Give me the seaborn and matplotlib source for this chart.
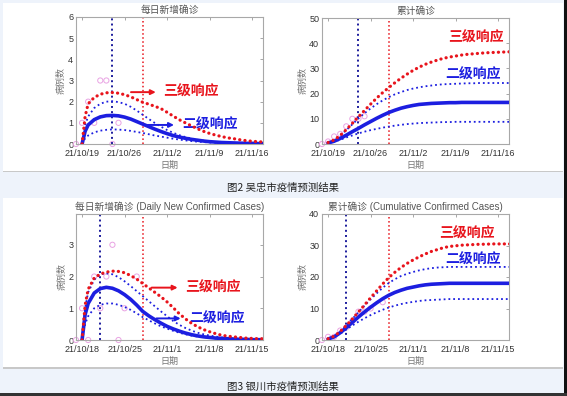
import numpy as np
import matplotlib.pyplot as plt
import matplotlib.patches as mpatches
import seaborn as sns

sns.set_theme(style="white")
plt.rcParams['font.family'] = ['Liberation Sans Narrow', 'Liberation Sans', 'Noto Sans CJK SC']
plt.rcParams['axes.unicode_minus'] = False

RED = '#e8141c'
BLUE = '#1c1ee0'
NAVY = '#1c1c9c'
PINK = '#e9a3e3'

# x positions: days after first tick date
days_d = np.r_[0, 0.5, np.arange(1, 31)]
days_c = np.arange(0, 31)

# ---- 吴忠 (fig 2) ----
wz_ticks = ['21/10/19', '21/10/26', '21/11/2', '21/11/9', '21/11/16']
wz_vlines = [5, 10]
wz_obs_days = [-1, 0, 1, 2, 3, 4, 5, 6]
wz_obs_daily = [0, 1, 2, 1, 3, 3, 0, 1]
wz_obs_cum = [0, 1, 3, 4, 7, 10, 10, 11]

wz_d_l3 = [0, 1.3, 1.9, 2.2, 2.35, 2.42, 2.43, 2.4, 2.33, 2.23, 2.1, 1.97,
           1.88, 1.78, 1.67, 1.5, 1.32, 1.15, 1.0, 0.86, 0.72, 0.6,
           0.5, 0.42, 0.35, 0.29, 0.25, 0.2, 0.16, 0.13, 0.11, 0.09]
wz_d_mid = [0, 0.6, 0.9, 1.15, 1.28, 1.34, 1.35, 1.33, 1.27, 1.18, 1.06, 0.94,
            0.82, 0.7, 0.59, 0.49, 0.4, 0.33, 0.27, 0.22, 0.18, 0.14,
            0.11, 0.09, 0.07, 0.06, 0.05, 0.04, 0.03, 0.03, 0.02, 0.02]
wz_d_up = [0, 0.9, 1.3, 1.7, 1.9, 2.0, 2.02, 1.98, 1.9, 1.76, 1.58, 1.38,
           1.18, 0.99, 0.82, 0.66, 0.53, 0.42, 0.33, 0.26, 0.2, 0.16,
           0.12, 0.09, 0.07, 0.06, 0.05, 0.04, 0.03, 0.02, 0.02, 0.02]
wz_d_lo = [0, 0.27, 0.4, 0.55, 0.63, 0.67, 0.69, 0.68, 0.66, 0.62, 0.57, 0.52,
           0.46, 0.4, 0.35, 0.3, 0.25, 0.21, 0.17, 0.14, 0.11, 0.09,
           0.07, 0.06, 0.05, 0.04, 0.03, 0.02, 0.02, 0.01, 0.01, 0.01]

wz_c_l3 = [0.6, 1.6, 3.4, 5.7, 8.2, 10.8, 13.3, 15.8, 18.2, 20.4,
           22.4, 24.3, 26.1, 27.7, 29.2, 30.5, 31.6, 32.5, 33.3, 34.0,
           34.5, 34.9, 35.3, 35.6, 35.8, 36.0, 36.2, 36.3, 36.4, 36.5, 36.6]
wz_c_up = [0.6, 1.6, 3.3, 5.5, 7.8, 10.1, 12.2, 14.1, 15.8, 17.3,
           18.6, 19.7, 20.6, 21.4, 22.0, 22.5, 22.9, 23.2, 23.5, 23.7,
           23.8, 23.9, 24.0, 24.1, 24.1, 24.2, 24.2, 24.2, 24.2, 24.2, 24.2]
wz_c_mid = [0.4, 1.1, 2.2, 3.5, 4.9, 6.2, 7.6, 8.9, 10.2, 11.4,
            12.5, 13.4, 14.2, 14.8, 15.3, 15.7, 15.9, 16.1, 16.2, 16.3,
            16.4, 16.4, 16.5, 16.5, 16.5, 16.5, 16.5, 16.5, 16.5, 16.5, 16.5]
wz_c_lo = [0.3, 0.9, 1.7, 2.6, 3.4, 4.2, 4.9, 5.5, 6.0, 6.5,
           6.9, 7.3, 7.6, 7.9, 8.1, 8.3, 8.4, 8.5, 8.6, 8.7,
           8.7, 8.8, 8.8, 8.8, 8.8, 8.8, 8.8, 8.8, 8.8, 8.8, 8.8]

# ---- 银川 (fig 3) ----
yc_ticks = ['21/10/18', '21/10/25', '21/11/1', '21/11/8', '21/11/15']
yc_vlines = [3, 10]
yc_obs_days = [-1, 0, 1, 2, 3, 4, 5, 6, 7, 9]
yc_obs_daily = [0, 1, 0, 2, 1, 2, 3, 0, 1, 2]
yc_obs_cum = [0, 1, 1, 3, 4, 6, 9, 9, 10, 12]

yc_d_l3 = [0, 1.1, 1.6, 1.95, 2.08, 2.14, 2.17, 2.16, 2.12, 2.03, 1.92, 1.78,
           1.64, 1.5, 1.36, 1.2, 1.02, 0.83, 0.67, 0.53, 0.42, 0.33,
           0.26, 0.2, 0.15, 0.12, 0.1, 0.08, 0.06, 0.05, 0.04, 0.04]
yc_d_up = [0, 1.0, 1.5, 1.9, 2.07, 2.1, 2.07, 1.98, 1.85, 1.7, 1.54, 1.38,
           1.22, 1.06, 0.9, 0.75, 0.6, 0.48, 0.38, 0.3, 0.23, 0.18,
           0.14, 0.11, 0.08, 0.06, 0.05, 0.04, 0.03, 0.02, 0.02, 0.02]
yc_d_mid = [0, 0.8, 1.15, 1.48, 1.62, 1.66, 1.63, 1.55, 1.43, 1.28, 1.1, 0.9,
            0.76, 0.64, 0.53, 0.43, 0.35, 0.28, 0.22, 0.17, 0.13, 0.1,
            0.08, 0.06, 0.05, 0.04, 0.03, 0.02, 0.02, 0.01, 0.01, 0.01]
yc_d_lo = [0, 0.5, 0.75, 1.0, 1.11, 1.15, 1.15, 1.11, 1.04, 0.95, 0.84, 0.72,
           0.62, 0.52, 0.43, 0.36, 0.29, 0.23, 0.18, 0.14, 0.11, 0.09,
           0.07, 0.05, 0.04, 0.03, 0.02, 0.02, 0.01, 0.01, 0.01, 0.01]

yc_c_l3 = [0.4, 1.2, 2.7, 4.6, 6.7, 8.9, 11.1, 13.4, 15.6, 17.8,
           19.8, 21.5, 23.0, 24.3, 25.4, 26.4, 27.3, 28.1, 28.7, 29.3,
           29.7, 29.9, 30.1, 30.2, 30.3, 30.4, 30.4, 30.5, 30.5, 30.5, 30.5]
yc_c_up = [0.4, 1.2, 2.7, 4.6, 6.7, 8.8, 10.9, 12.9, 14.8, 16.6,
           18.1, 19.3, 20.3, 21.0, 21.6, 22.1, 22.5, 22.8, 23.0, 23.1,
           23.2, 23.2, 23.2, 23.2, 23.2, 23.2, 23.2, 23.2, 23.2, 23.2, 23.2]
yc_c_mid = [0.3, 1.0, 2.3, 3.9, 5.6, 7.3, 8.9, 10.4, 11.8, 13.1,
            14.2, 15.1, 15.8, 16.4, 16.8, 17.2, 17.5, 17.7, 17.8, 17.9,
            18.0, 18.0, 18.0, 18.0, 18.0, 18.0, 18.0, 18.0, 18.0, 18.0, 18.0]
yc_c_lo = [0.3, 0.9, 2.0, 3.3, 4.6, 5.8, 6.9, 7.9, 8.8, 9.6,
           10.3, 10.9, 11.4, 11.8, 12.1, 12.4, 12.6, 12.7, 12.8, 12.9,
           13.0, 13.0, 13.0, 13.0, 13.0, 13.0, 13.0, 13.0, 13.0, 13.0, 13.0]

tick_days = [0, 7, 14, 21, 28]
CJK = ['Noto Sans CJK SC']


def style_axes(ax, title, ticks, ylim, yticks):
    ax.set_xlim(-1, 29.8)
    ax.set_ylim(*ylim)
    ax.set_xticks(tick_days)
    ax.set_xticklabels(ticks)
    ax.set_yticks(yticks)
    ax.tick_params(direction='in', top=True, right=True, length=2.5, width=0.6,
                   color='#999999', labelsize=6.5, labelcolor='#333333', pad=2)
    ax.tick_params(axis='x', pad=3.8)
    for s in ax.spines.values():
        s.set_color('#a8a8a8')
        s.set_linewidth(0.8)
    ax.set_title(title, fontsize=7, color='#555555', pad=3)
    ax.set_xlabel('日期', fontsize=6.5, color='#777777', labelpad=1.5)
    ax.set_ylabel('病例数', fontsize=6.5, color='#777777', labelpad=1.5)


def draw_panel(ax, x, lo, mid, up, l3, vlines, obs_x, obs_y):
    ax.axvline(vlines[0], color=NAVY, lw=1.4, ls=':', zorder=2)
    ax.axvline(vlines[1], color=RED, lw=1.1, ls=':', zorder=2)
    sns.scatterplot(x=obs_x, y=obs_y, ax=ax, marker='o', s=14,
                    facecolors='none', edgecolors=PINK, linewidth=0.7,
                    clip_on=False, zorder=1)
    sns.lineplot(x=x, y=lo, ax=ax, color=BLUE, lw=1.3, ls=':', zorder=3)
    sns.lineplot(x=x, y=up, ax=ax, color=BLUE, lw=1.3, ls=':', zorder=3)
    sns.lineplot(x=x, y=mid, ax=ax, color=BLUE, lw=2.6, zorder=4)
    sns.lineplot(x=x, y=l3, ax=ax, color=RED, lw=2.3, dashes=(0.05, 1.6),
                 dash_capstyle='round', zorder=5)


fig = plt.figure(figsize=(5.67, 3.96), dpi=100, facecolor='#eef3fb')


def band(x0, y0, w, h, color):
    # rectangle given in image pixels from the top-left corner
    fig.patches.append(mpatches.Rectangle((x0 / 567, 1 - (y0 + h) / 396), w / 567, h / 396,
                                          transform=fig.transFigure, fc=color, ec='none',
                                          zorder=-10))


band(3, 3, 560, 168, 'white')
band(3, 198, 560, 169, 'white')
band(3, 171, 560, 1.5, '#c8c8c8')
band(3, 367, 560, 1.5, '#c8c8c8')
band(564, 0, 3, 396, '#111111')
band(0, 393, 567, 3, '#333333')

ax1 = fig.add_axes([76 / 567, 1 - 144 / 396, 187 / 567, 127 / 396])
ax2 = fig.add_axes([322 / 567, 1 - 144 / 396, 187 / 567, 126 / 396])
ax3 = fig.add_axes([76 / 567, 1 - 340 / 396, 187 / 567, 126 / 396])
ax4 = fig.add_axes([322 / 567, 1 - 340 / 396, 187 / 567, 126 / 396])
for ax in (ax1, ax2, ax3, ax4):
    ax.set_zorder(1)

draw_panel(ax1, days_d, wz_d_lo, wz_d_mid, wz_d_up, wz_d_l3, wz_vlines, wz_obs_days, wz_obs_daily)
draw_panel(ax2, days_c, wz_c_lo, wz_c_mid, wz_c_up, wz_c_l3, wz_vlines, wz_obs_days, wz_obs_cum)
draw_panel(ax3, days_d, yc_d_lo, yc_d_mid, yc_d_up, yc_d_l3, yc_vlines, yc_obs_days, yc_obs_daily)
draw_panel(ax4, days_c, yc_c_lo, yc_c_mid, yc_c_up, yc_c_l3, yc_vlines, yc_obs_days, yc_obs_cum)

style_axes(ax1, '每日新增确诊', wz_ticks, (0, 6), range(0, 7))
style_axes(ax2, '累计确诊', wz_ticks, (0, 50), range(0, 51, 10))
style_axes(ax3, '每日新增确诊 (Daily New Confirmed Cases)', yc_ticks, (0, 3.97), range(0, 4))
style_axes(ax4, '累计确诊 (Cumulative Confirmed Cases)', yc_ticks, (0, 40), range(0, 41, 10))

lab = dict(fontsize=10, fontweight='bold', family=CJK, va='center', ha='left')
arr_r = dict(arrowstyle='-|>', color=RED, lw=1.4, mutation_scale=7)
arr_b = dict(arrowstyle='-|>', color=BLUE, lw=1.4, mutation_scale=7)

ax1.annotate('', xy=(12.6, 2.45), xytext=(7.6, 2.45), arrowprops=arr_r, zorder=6)
ax1.text(13.3, 2.45, '三级响应', color=RED, **lab)
ax1.annotate('', xy=(15.6, 0.9), xytext=(9.9, 0.9), arrowprops=arr_b, zorder=6)
ax1.text(16.5, 0.9, '二级响应', color=BLUE, **lab)

ax3.annotate('', xy=(16.2, 1.65), xytext=(11.0, 1.65), arrowprops=arr_r, zorder=6)
ax3.text(17.0, 1.65, '三级响应', color=RED, **lab)
ax3.annotate('', xy=(16.7, 0.68), xytext=(11.8, 0.68), arrowprops=arr_b, zorder=6)
ax3.text(17.6, 0.68, '二级响应', color=BLUE, **lab)

ax2.text(24.3, 42, '三级响应', color=RED, **dict(lab, ha='center'))
ax2.text(23.8, 27.4, '二级响应', color=BLUE, **dict(lab, ha='center'))
ax4.text(22.9, 33.6, '三级响应', color=RED, **dict(lab, ha='center'))
ax4.text(23.8, 25.4, '二级响应', color=BLUE, **dict(lab, ha='center'))

fig.text(283 / 567, 1 - 188 / 396, '图2 吴忠市疫情预测结果', fontsize=7.5, color='#222222',
         ha='center', va='center', family=CJK)
fig.text(283 / 567, 1 - 387 / 396, '图3 银川市疫情预测结果', fontsize=7.5, color='#222222',
         ha='center', va='center', family=CJK)

fig.savefig('out.png', dpi=100, facecolor=fig.get_facecolor())
